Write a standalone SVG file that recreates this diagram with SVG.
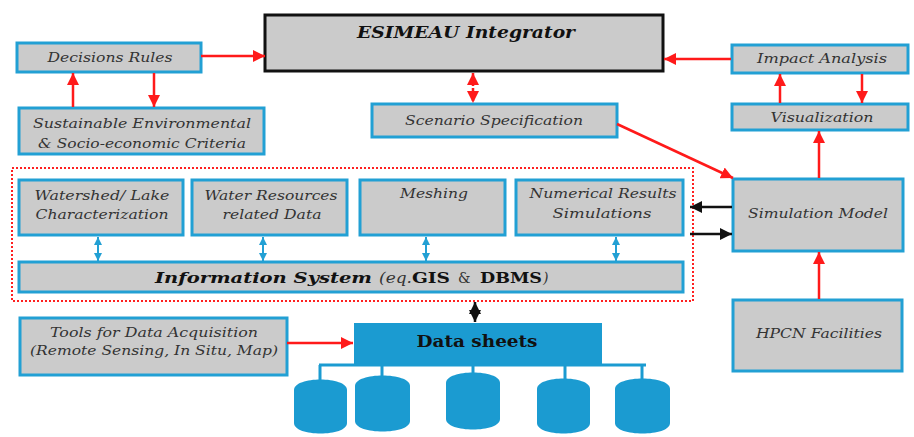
<svg xmlns="http://www.w3.org/2000/svg" width="914" height="437" viewBox="0 0 914 437">
<style>
.box{fill:#cbcbcb;stroke:#22a0d4;stroke-width:3}
.t{font-family:"DejaVu Serif","Liberation Serif",serif;font-style:italic;font-size:13px;fill:#333}
.b{font-family:"DejaVu Serif","Liberation Serif",serif;font-weight:bold;fill:#111}
.r{stroke:#ff1a1a;stroke-width:2.5;fill:none}
.k{stroke:#111;stroke-width:2.5;fill:none}
.c{stroke:#22a0d4;stroke-width:2;fill:none}
.cyl{fill:#1b9bd1}
</style>
<defs>
<marker id="ar" viewBox="0 0 10 10" refX="10" refY="5" markerWidth="12" markerHeight="12" markerUnits="userSpaceOnUse" orient="auto-start-reverse"><path d="M0,0 L10,5 L0,10 z" fill="#ff1a1a"/></marker>
<marker id="ak" viewBox="0 0 10 10" refX="10" refY="5" markerWidth="12" markerHeight="12" markerUnits="userSpaceOnUse" orient="auto-start-reverse"><path d="M0,0 L10,5 L0,10 z" fill="#111"/></marker>
<marker id="ac" viewBox="0 0 10 10" refX="10" refY="5" markerWidth="8" markerHeight="8" markerUnits="userSpaceOnUse" orient="auto-start-reverse"><path d="M0,0 L10,5 L0,10 z" fill="#22a0d4"/></marker>
</defs>

<g id="container">
<rect x="12" y="168" width="681" height="133" fill="none" stroke="#ff2020" stroke-width="2" stroke-dasharray="2 2"/>
</g>

<g id="integrator">
<rect x="265" y="15" width="398" height="56" fill="#cbcbcb" stroke="#111" stroke-width="3"/>
<text class="b" x="466" y="38" font-size="17" font-style="italic" text-anchor="middle" textLength="218" lengthAdjust="spacingAndGlyphs">ESIMEAU Integrator</text>
</g>

<g id="decisions">
<rect class="box" x="17" y="43" width="184" height="29"/>
<text class="t" x="110" y="62" text-anchor="middle" textLength="125" lengthAdjust="spacingAndGlyphs">Decisions Rules</text>
</g>

<g id="sustainable">
<rect class="box" x="19" y="108" width="245" height="46"/>
<text class="t" x="142" y="128" text-anchor="middle" textLength="218" lengthAdjust="spacingAndGlyphs">Sustainable Environmental</text>
<text class="t" x="142" y="148" text-anchor="middle" textLength="208" lengthAdjust="spacingAndGlyphs">&amp; Socio-economic Criteria</text>
</g>

<g id="scenario">
<rect class="box" x="372" y="104" width="245" height="33"/>
<text class="t" x="494" y="125" text-anchor="middle" textLength="178" lengthAdjust="spacingAndGlyphs">Scenario Specification</text>
</g>

<g id="impact">
<rect class="box" x="732" y="45" width="176" height="28"/>
<text class="t" x="822" y="63" text-anchor="middle" textLength="130" lengthAdjust="spacingAndGlyphs">Impact Analysis</text>
</g>

<g id="visualization">
<rect class="box" x="732" y="104" width="176" height="26"/>
<text class="t" x="822" y="122" text-anchor="middle" textLength="103" lengthAdjust="spacingAndGlyphs">Visualization</text>
</g>

<g id="simulation">
<rect class="box" x="733" y="179" width="170" height="72"/>
<text class="t" x="818" y="218" text-anchor="middle" textLength="140" lengthAdjust="spacingAndGlyphs">Simulation Model</text>
</g>

<g id="hpcn">
<rect class="box" x="733" y="300" width="169" height="71"/>
<text class="t" x="819" y="338" text-anchor="middle" textLength="126" lengthAdjust="spacingAndGlyphs">HPCN Facilities</text>
</g>

<g id="watershed">
<rect class="box" x="19" y="180" width="164" height="55"/>
<text class="t" x="102" y="200" text-anchor="middle" textLength="135" lengthAdjust="spacingAndGlyphs">Watershed/ Lake</text>
<text class="t" x="102" y="219" text-anchor="middle" textLength="133" lengthAdjust="spacingAndGlyphs">Characterization</text>
</g>

<g id="waterres">
<rect class="box" x="192" y="180" width="155" height="55"/>
<text class="t" x="271" y="200" text-anchor="middle" textLength="133" lengthAdjust="spacingAndGlyphs">Water Resources</text>
<text class="t" x="272" y="219" text-anchor="middle" textLength="99" lengthAdjust="spacingAndGlyphs">related Data</text>
</g>

<g id="meshing">
<rect class="box" x="360" y="180" width="145" height="55"/>
<text class="t" x="434" y="198" text-anchor="middle" textLength="68" lengthAdjust="spacingAndGlyphs">Meshing</text>
</g>

<g id="numerical">
<rect class="box" x="516" y="180" width="167" height="55"/>
<text class="t" x="603" y="198" text-anchor="middle" textLength="147" lengthAdjust="spacingAndGlyphs">Numerical Results</text>
<text class="t" x="602" y="218" text-anchor="middle" textLength="99" lengthAdjust="spacingAndGlyphs">Simulations</text>
</g>

<g id="infosys">
<rect class="box" x="19" y="262" width="664" height="30"/>
<text x="155" y="283" font-family="DejaVu Serif, Liberation Serif, serif" font-size="15" fill="#111"><tspan font-weight="bold" font-style="italic" textLength="217" lengthAdjust="spacingAndGlyphs">Information System</tspan><tspan x="379" font-style="italic" fill="#333" font-size="14" textLength="33" lengthAdjust="spacingAndGlyphs">(eq.</tspan><tspan x="412" font-weight="bold" textLength="38" lengthAdjust="spacingAndGlyphs">GIS</tspan><tspan x="458" fill="#333" font-size="14">&amp;</tspan><tspan x="480" font-weight="bold" textLength="62" lengthAdjust="spacingAndGlyphs">DBMS</tspan><tspan x="543" font-style="italic" fill="#333" font-size="14">)</tspan></text>
</g>

<g id="tools">
<rect class="box" x="20" y="318" width="267" height="57"/>
<text class="t" x="154" y="337" text-anchor="middle" textLength="208" lengthAdjust="spacingAndGlyphs">Tools for Data Acquisition</text>
<text class="t" x="154" y="355" text-anchor="middle" textLength="248" lengthAdjust="spacingAndGlyphs">(Remote Sensing, In Situ, Map)</text>
</g>

<g id="datasheets">
<rect x="354" y="323" width="248" height="42" fill="#1b9bd1"/>
<text class="b" x="477" y="347" font-size="16" text-anchor="middle" textLength="121" lengthAdjust="spacingAndGlyphs">Data sheets</text>
</g>

<g id="databases">
<path class="cyl" d="M294,390 C294,376 347,376 347,390 L347,423 C347,437 294,437 294,423 Z"/>
<path class="cyl" d="M355,386 C355,372 410,372 410,386 L410,421 C410,435 355,435 355,421 Z"/>
<path class="cyl" d="M446,383 C446,369 500,369 500,383 L500,419 C500,433 446,433 446,419 Z"/>
<path class="cyl" d="M537,389 C537,375 590,375 590,389 L590,423 C590,437 537,437 537,423 Z"/>
<path class="cyl" d="M615,389 C615,375 670,375 670,389 L670,423 C670,437 615,437 615,423 Z"/>
</g>

<g id="connectors">
<line class="r" x1="201" y1="56" x2="265" y2="56" marker-end="url(#ar)"/>
<line class="r" x1="73" y1="107" x2="73" y2="73" marker-end="url(#ar)"/>
<line class="r" x1="154" y1="73" x2="154" y2="107" marker-end="url(#ar)"/>
<line class="r" x1="473" y1="73" x2="473" y2="103" stroke-dasharray="3 2" marker-start="url(#ar)" marker-end="url(#ar)"/>
<line class="r" x1="731" y1="59" x2="664" y2="59" marker-end="url(#ar)"/>
<line class="r" x1="780" y1="103" x2="780" y2="74" marker-end="url(#ar)"/>
<line class="r" x1="862" y1="74" x2="862" y2="103" marker-end="url(#ar)"/>
<line class="r" x1="819" y1="178" x2="819" y2="131" marker-end="url(#ar)"/>
<line class="r" x1="617" y1="124" x2="733" y2="178" marker-end="url(#ar)"/>
<line class="r" x1="819" y1="299" x2="819" y2="252" marker-end="url(#ar)"/>
<line class="r" x1="287" y1="343" x2="353" y2="343" marker-end="url(#ar)"/>
<line class="k" x1="732" y1="207" x2="690" y2="207" marker-end="url(#ak)"/>
<line class="k" x1="690" y1="234" x2="732" y2="234" marker-end="url(#ak)"/>
<line class="k" x1="475" y1="302" x2="475" y2="322" stroke-width="2" marker-start="url(#ak)" marker-end="url(#ak)"/>
<line class="c" x1="98" y1="237" x2="98" y2="261" marker-start="url(#ac)" marker-end="url(#ac)"/>
<line class="c" x1="263" y1="237" x2="263" y2="261" marker-start="url(#ac)" marker-end="url(#ac)"/>
<line class="c" x1="426" y1="237" x2="426" y2="261" marker-start="url(#ac)" marker-end="url(#ac)"/>
<line class="c" x1="616" y1="237" x2="616" y2="261" marker-start="url(#ac)" marker-end="url(#ac)"/>
<g stroke="#1b9bd1" stroke-width="3" fill="none">
<line x1="319" y1="365" x2="646" y2="365"/>
<line x1="320" y1="365" x2="320" y2="382"/>
<line x1="382" y1="365" x2="382" y2="378"/>
<line x1="473" y1="365" x2="473" y2="375"/>
<line x1="565" y1="365" x2="565" y2="381"/>
<line x1="642" y1="365" x2="642" y2="381"/>
</g>
</g>
</svg>
